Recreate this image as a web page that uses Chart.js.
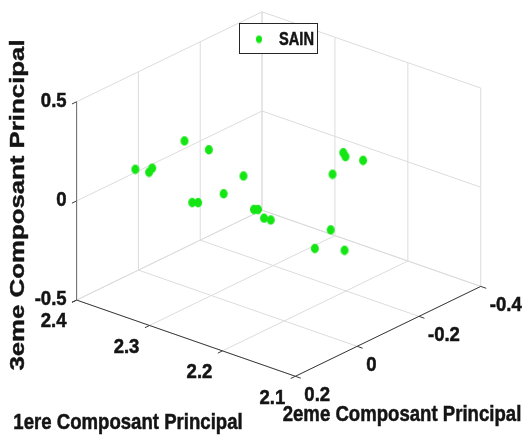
<!DOCTYPE html>
<html><head><meta charset="utf-8">
<script src="https://cdn.jsdelivr.net/npm/chart.js@4/dist/chart.umd.min.js"></script>
<style>html,body{margin:0;padding:0;background:#fff}#wrap{width:526px;height:436px}</style>
</head><body><div id="wrap"><canvas id="c" width="526" height="436"></canvas></div>
<script>
// ---- data ----
const seriesName = 'SAIN';
const comp1 = [2.350, 2.340, 2.340, 2.350, 2.300, 2.280, 2.280, 2.270, 2.300, 2.250, 2.250, 2.240, 2.230, 2.200, 2.200, 2.180, 2.180, 2.160, 2.150, 2.150];
const comp2 = [0.128, 0.107, 0.097, -0.031, 0.008, 0.109, 0.090, 0.031, -0.104, -0.020, -0.033, -0.029, -0.027, -0.191, -0.198, -0.208, -0.109, -0.056, 0.019, -0.077];
const comp3 = [0.170, 0.152, 0.165, 0.193, 0.242, 0.078, 0.063, 0.076, 0.025, -0.016, -0.026, -0.054, -0.049, 0.205, 0.180, 0.179, 0.184, -0.031, -0.055, -0.137];
const xTicks = [2.1, 2.2, 2.3, 2.4];
const yTicks = [-0.4, -0.2, 0, 0.2];
const zTicks = [-0.5, 0, 0.5];
const xTickLabels = ['2.1', '2.2', '2.3', '2.4'];
const yTickLabels = ['-0.4', '-0.2', '0', '0.2'];
const zTickLabels = ['-0.5', '0', '0.5'];
const titleX = '1ere Composant Principal';
const titleY = '2eme Composant Principal';
const titleZ = '3eme Composant Principal';

// ---- 3D view (box placement in view units) ----
const W = 526, H = 436;
const lim = { x: [2.1, 2.4], y: [-0.4, 0.2], z: [-0.5, 0.5] };
const view = { o: [485, 288], ex: [-223, -78], ey: [-189, 92], ez: [0, -203] };
function proj(x, y, z) {
  const nx = (x - lim.x[0]) / (lim.x[1] - lim.x[0]);
  const ny = (y - lim.y[0]) / (lim.y[1] - lim.y[0]);
  const nz = (z - lim.z[0]) / (lim.z[1] - lim.z[0]);
  return {
    x: view.o[0] + view.ex[0] * nx + view.ey[0] * ny + view.ez[0] * nz,
    y: view.o[1] + view.ex[1] * nx + view.ey[1] * ny + view.ez[1] * nz
  };
}
const X0 = lim.x[0], X1 = lim.x[1], Y0 = lim.y[0], Y1 = lim.y[1], Z0 = lim.z[0], Z1 = lim.z[1];
const gridSegs = [];
xTicks.forEach(t => { gridSegs.push([[t, Y0, Z0], [t, Y1, Z0]]); gridSegs.push([[t, Y0, Z0], [t, Y0, Z1]]); });
yTicks.forEach(t => { gridSegs.push([[X0, t, Z0], [X1, t, Z0]]); gridSegs.push([[X1, t, Z0], [X1, t, Z1]]); });
zTicks.forEach(t => { gridSegs.push([[X1, Y0, t], [X1, Y1, t]]); gridSegs.push([[X0, Y0, t], [X1, Y0, t]]); });
const axisSegs = [
  [[X0, Y1, Z0], [X1, Y1, Z0]],
  [[X0, Y0, Z0], [X0, Y1, Z0]]
];
const zAxisSeg = [[X1, Y1, Z0], [X1, Y1, Z1]];
const tk = 0.025;
const tickSegs = [];
xTicks.forEach(t => tickSegs.push([[t, Y1, Z0], [t, Y1 + tk * (Y1 - Y0), Z0]]));
yTicks.forEach(t => tickSegs.push([[X0, t, Z0], [X0 - tk * (X1 - X0), t, Z0]]));
zTicks.forEach(t => tickSegs.push([[X1, Y1, t], [X1, Y1 + tk * (Y1 - Y0), t]]));

const segDs = (s, color, w, order) => ({
  type: 'line', data: s.map(p => proj(p[0], p[1], p[2])), borderColor: color, borderWidth: w,
  pointRadius: 0, fill: false, showLine: true, order: order
});
const green = '#14e614';
function ellipseMarker(w, h) {
  const c = document.createElement('canvas');
  c.width = w + 2; c.height = h + 2;
  const g = c.getContext('2d');
  g.fillStyle = green;
  g.beginPath(); g.ellipse((w + 2) / 2, (h + 2) / 2, w / 2, h / 2, 0, 0, Math.PI * 2); g.fill();
  return c;
}
const marker = ellipseMarker(8, 9.5);
const datasets = [
  { label: seriesName, data: comp1.map((v, i) => proj(v, comp2[i], comp3[i])), backgroundColor: green,
    borderColor: green, pointStyle: marker, pointRadius: 5, borderWidth: 0, order: 0 }
];
gridSegs.forEach(s => datasets.push(segDs(s, '#dcdcdc', 1, 5)));
axisSegs.forEach(s => datasets.push(segDs(s, '#3a3a3a', 1, 2)));
datasets.push(segDs(zAxisSeg, '#6a6a6a', 1, 2));
tickSegs.forEach(s => datasets.push(segDs(s, '#3a3a3a', 1, 2)));

function drawText(ctx, str, x, y, size, sx, sy, align, rot) {
  ctx.save();
  ctx.translate(x, y);
  if (rot) ctx.rotate(rot);
  ctx.scale(sx, sy);
  ctx.font = 'bold ' + size + 'px "Liberation Sans", Arial, sans-serif';
  ctx.textAlign = align;
  ctx.textBaseline = 'middle';
  ctx.fillStyle = '#141414';
  ctx.strokeStyle = '#141414';
  ctx.lineWidth = 0.5;
  ctx.fillText(str, 0, 0);
  ctx.strokeText(str, 0, 0);
  ctx.restore();
}

const textPlugin = {
  id: 'text3d',
  afterDraw(chart) {
    const ctx = chart.ctx;
    const sxs = chart.scales.x, sys = chart.scales.y;
    const P = (x, y, z) => { const p = proj(x, y, z); return { x: sxs.getPixelForValue(p.x), y: sys.getPixelForValue(p.y) }; };
    zTicks.forEach((t, i) => { const p = P(X1, Y1, t); drawText(ctx, zTickLabels[i], p.x - 10, p.y, 19.5, 0.95, 1, 'right'); });
    xTicks.forEach((t, i) => { const p = P(t, Y1, Z0); drawText(ctx, xTickLabels[i], p.x - 23, p.y + 22, 19.5, 0.95, 1, 'center'); });
    yTicks.forEach((t, i) => { const p = P(X0, t, Z0); drawText(ctx, yTickLabels[i], p.x + 9, p.y + 19, 19.5, 0.95, 1, 'left'); });
    drawText(ctx, titleX, 128, 423, 22, 0.845, 1, 'center');
    drawText(ctx, titleY, 402, 415, 22, 0.845, 1, 'center');
    drawText(ctx, titleZ, 18, 205, 25.8, 1, 0.8, 'center', -Math.PI / 2);
    // legend
    ctx.save();
    ctx.fillStyle = '#fff';
    ctx.fillRect(239.5, 23.5, 78, 30);
    ctx.strokeStyle = '#262626';
    ctx.lineWidth = 1;
    ctx.strokeRect(239.5, 23.5, 78, 30);
    ctx.drawImage(ellipseMarker(6, 7.5), 255, 34.5);
    ctx.restore();
    drawText(ctx, chart.data.datasets[0].label, 279, 39.5, 19, 0.77, 1, 'left');
  }
};

new Chart(document.getElementById('c'), {
  type: 'scatter',
  data: { datasets },
  options: {
    responsive: false, animation: false, events: [],
    layout: { padding: 0 },
    scales: {
      x: { type: 'linear', min: 0, max: W, display: false },
      y: { type: 'linear', min: 0, max: H, reverse: true, display: false }
    },
    plugins: { legend: { display: false }, tooltip: { enabled: false } }
  },
  plugins: [textPlugin]
});
</script></body></html>
